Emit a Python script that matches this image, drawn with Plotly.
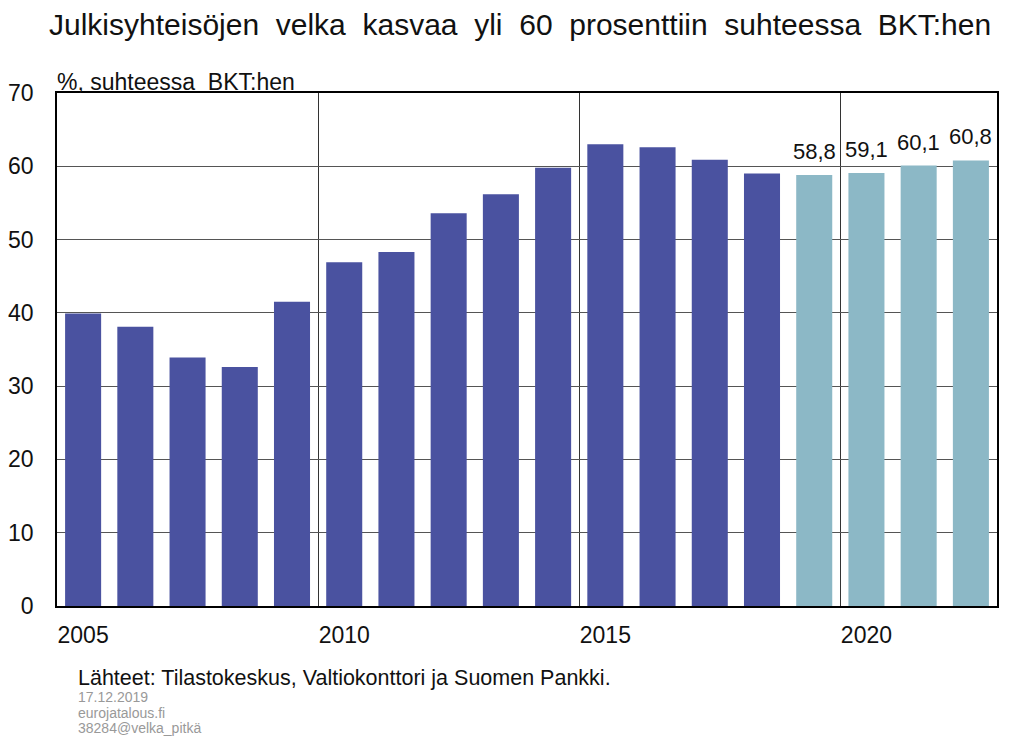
import plotly.graph_objects as go

years = list(range(2005, 2023))
values = [39.9, 38.1, 33.9, 32.6, 41.5, 46.9, 48.3, 53.6, 56.2, 59.8,
          63.0, 62.6, 60.9, 59.0, 58.8, 59.1, 60.1, 60.8]
forecast_from = 2019
tick_years = [2005, 2010, 2015, 2020]
y_ticks = [0, 10, 20, 30, 40, 50, 60, 70]

DARK = "#4A52A0"
LIGHT = "#8CB8C6"
FONT = "Liberation Sans, Arial, sans-serif"
SP = "\u00a0 "  # wide word spacing as in the original

hist_x = [y for y in years if y < forecast_from]
hist_v = [v for y, v in zip(years, values) if y < forecast_from]
fc_x = [y for y in years if y >= forecast_from]
fc_v = [v for y, v in zip(years, values) if y >= forecast_from]
fc_text = [f"{v:.1f}".replace(".", ",") for v in fc_v]

fig = go.Figure()
fig.add_trace(go.Bar(x=hist_x, y=hist_v, marker=dict(color=DARK, line=dict(width=0)),
                     hoverinfo="x+y"))
fig.add_trace(go.Bar(x=fc_x, y=fc_v, marker=dict(color=LIGHT, line=dict(width=0)),
                     hoverinfo="x+y"))
for x, v, t in zip(fc_x, fc_v, fc_text):
    fig.add_annotation(x=x, y=v, text=t, showarrow=False, yanchor="bottom", yshift=9,
                       font=dict(size=22, family=FONT, color="#111"))

title = SP.join("Julkisyhteisöjen velka kasvaa yli 60 prosenttiin suhteessa BKT:hen".split(" "))

W, H = 1009, 730  # page adds an 8px body margin
fig.update_layout(
    width=W, height=H,
    margin=dict(l=49, r=20, t=85, b=132, autoexpand=False),
    paper_bgcolor="white", plot_bgcolor="white",
    showlegend=False, barmode="overlay", bargap=0.31,
    font=dict(family=FONT, color="#111"),
    title=dict(text=title, x=41 / W, xanchor="left", y=1 - 16 / H, yanchor="middle",
               font=dict(size=30, family=FONT, color="#111")),
)
fig.update_xaxes(
    range=[years[0] - 0.5, years[-1] + 0.5],
    tickvals=tick_years, ticktext=[str(t) for t in tick_years],
    tickfont=dict(size=23, family=FONT, color="#111"),
    ticks="", showgrid=False, zeroline=False, automargin=False,
    showline=True, linecolor="black", linewidth=1.5, mirror=True,
    ticklabelstandoff=8,
    minor=dict(tick0=years[0] - 0.5, dtick=5, showgrid=True, gridcolor="#333", gridwidth=1, ticks=""),
)
fig.update_yaxes(
    range=[0, 70], tickvals=y_ticks,
    tickfont=dict(size=23, family=FONT, color="#111"),
    ticks="", showgrid=True, gridcolor="#555", gridwidth=1, zeroline=False, automargin=False,
    showline=True, linecolor="black", linewidth=1.5, mirror=True,
    ticklabelstandoff=17,
)
fig.add_annotation(text="%, suhteessa" + SP + "BKT:hen", xref="paper", yref="paper",
                   x=0.0, y=1.0, xanchor="left", yanchor="bottom", yshift=-4, xshift=-2,
                   showarrow=False, font=dict(size=23, family=FONT, color="#111"))
fig.add_annotation(text="Lähteet: Tilastokeskus, Valtiokonttori ja Suomen Pankki.",
                   xref="paper", yref="paper", x=0.0, y=0, xanchor="left", yanchor="middle",
                   xshift=19, yshift=-72, showarrow=False,
                   font=dict(size=21.5, family=FONT, color="#111"))
for i, line in enumerate(["17.12.2019", "eurojatalous.fi", "38284@velka_pitkä"]):
    fig.add_annotation(text=line, xref="paper", yref="paper", x=0.0, y=0,
                       xanchor="left", yanchor="middle", xshift=19, yshift=-91 - 15.5 * i,
                       showarrow=False, font=dict(size=14, family=FONT, color="#999"))

fig.write_html("out.html")
